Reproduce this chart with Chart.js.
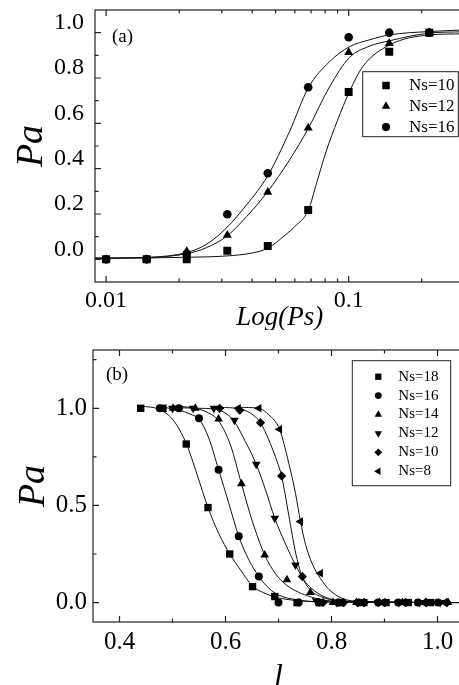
<!DOCTYPE html>
<html>
<head>
<meta charset="utf-8">
<title>Pa vs Ps and l</title>
<script src="https://cdn.jsdelivr.net/npm/chart.js@4.4.1/dist/chart.umd.min.js"></script>
<style>
  html, body { margin: 0; padding: 0; background: #fff; overflow: hidden; }
  #wrap { position: relative; width: 459px; height: 685px; overflow: hidden; }
  canvas { position: absolute; left: 0; }
  #chartA { top: 0; }
  #chartB { top: 330px; }
</style>
</head>
<body>
<div id="wrap">
  <canvas id="chartA" width="470" height="330"></canvas>
  <canvas id="chartB" width="470" height="355"></canvas>
</div>
<script>
const SERIF = '"Liberation Serif", "Times New Roman", serif';

// ---- panel (a): Pa against Ps (log axis) ----
const aPs = [0.01, 0.0147, 0.0215, 0.0316, 0.0464, 0.0681, 0.1, 0.147, 0.215];
const aPaNs10 = [0, 0, 0, 0.038, 0.059, 0.218, 0.738, 0.916, 1.0];
const aPaNs12 = [0, 0, 0.035, 0.107, 0.296, 0.58, 0.913, 0.953, 1.0];
const aPaNs16 = [0, 0, 0.025, 0.199, 0.38, 0.759, 0.98, 1.0, 1.0];

// fitted curves
const aFit10X = [0.009, 0.015, 0.0215, 0.0315, 0.04, 0.0463, 0.0552, 0.06, 0.0682, 0.074, 0.0807, 0.09, 0.1007, 0.1143, 0.147, 0.215, 0.3];
const aFit10Y = [0.005, 0.006, 0.009, 0.015, 0.028, 0.049, 0.11, 0.145, 0.217, 0.342, 0.475, 0.614, 0.739, 0.85, 0.945, 0.99, 0.995];
const aFit12X = [0.009, 0.015, 0.0215, 0.026, 0.0315, 0.0379, 0.0463, 0.057, 0.0682, 0.0834, 0.1007, 0.1216, 0.147, 0.215, 0.3];
const aFit12Y = [0.005, 0.008, 0.025, 0.052, 0.103, 0.188, 0.298, 0.438, 0.578, 0.761, 0.89, 0.94, 0.964, 0.998, 1.004];
const aFit16X = [0.009, 0.015, 0.0215, 0.026, 0.0315, 0.0379, 0.0463, 0.057, 0.0682, 0.0834, 0.1007, 0.1216, 0.147, 0.215, 0.3];
const aFit16Y = [0.005, 0.009, 0.03, 0.067, 0.141, 0.24, 0.367, 0.563, 0.757, 0.872, 0.938, 0.968, 0.99, 1.005, 1.012];

const aXMajor = [0.01, 0.1];
const aXMinor = [0.02, 0.03, 0.04, 0.05, 0.06, 0.07, 0.08, 0.09, 0.2, 0.3];
const aXLabels = ["0.01", "0.1"];
const aYMajor = [0, 0.2, 0.4, 0.6, 0.8, 1.0];
const aYMinor = [0.1, 0.3, 0.5, 0.7, 0.9];
const aYLabels = ["0.0", "0.2", "0.4", "0.6", "0.8", "1.0"];

// ---- panel (b): Pa against l ----
const bL18 = [0.44, 0.482, 0.526, 0.567, 0.608, 0.651, 0.693, 0.735, 0.777, 0.819, 0.861, 0.903, 0.945, 0.987];
const bPa18 = [1.0, 1.0, 0.816, 0.489, 0.25, 0.082, 0.031, 0, 0, 0, 0, 0, 0, 0];
const bL16 = [0.476, 0.512, 0.55, 0.587, 0.625, 0.663, 0.7, 0.738, 0.776, 0.813, 0.851, 0.888, 0.926, 0.963, 1.001];
const bPa16 = [1.0, 1.0, 0.949, 0.684, 0.341, 0.134, 0, 0, 0, 0, 0, 0, 0, 0, 0];
const bL14 = [0.501, 0.543, 0.587, 0.63, 0.674, 0.716, 0.76, 0.803, 0.847, 0.89, 0.934, 0.977, 1.02];
const bPa14 = [1.0, 1.0, 0.945, 0.612, 0.245, 0.117, 0.052, 0, 0, 0, 0, 0, 0];
const bL12 = [0.5, 0.539, 0.578, 0.617, 0.658, 0.693, 0.732, 0.771, 0.81, 0.849, 0.888, 0.927, 0.966, 1.005];
const bPa12 = [1.0, 1.0, 1.0, 0.938, 0.712, 0.434, 0.194, 0.01, 0, 0, 0, 0, 0, 0];
const bL10 = [0.589, 0.627, 0.666, 0.706, 0.745, 0.784, 0.823, 0.862, 0.901, 0.94, 0.979, 1.018];
const bPa10 = [1.0, 0.99, 0.926, 0.652, 0.134, 0, 0, 0, 0, 0, 0, 0];
const bL8 = [0.624, 0.663, 0.702, 0.7415, 0.779, 0.818, 0.857, 0.896, 0.935, 0.974, 1.013];
const bPa8 = [1.0, 1.0, 0.892, 0.417, 0.151, 0, 0, 0, 0, 0, 0];

const bFit18X = [0.44, 0.477, 0.5025, 0.5264, 0.5466, 0.567, 0.5874, 0.608, 0.6283, 0.651, 0.6723, 0.693, 0.735, 0.8, 1.05];
const bFit18Y = [1.012, 0.992, 0.935, 0.816, 0.657, 0.489, 0.355, 0.25, 0.168, 0.085, 0.05, 0.029, 0.01, 0.003, 0];
const bFit16X = [0.471, 0.512, 0.537, 0.55, 0.5685, 0.587, 0.6062, 0.625, 0.644, 0.663, 0.6817, 0.7, 0.735, 0.773, 1.05];
const bFit16Y = [1.009, 0.991, 0.966, 0.945, 0.846, 0.684, 0.511, 0.341, 0.22, 0.134, 0.074, 0.039, 0.014, 0.005, 0];
const bFit14X = [0.501, 0.543, 0.5655, 0.587, 0.6094, 0.63, 0.6516, 0.674, 0.694, 0.716, 0.76, 0.798, 1.05];
const bFit14Y = [1.012, 1.0, 0.979, 0.935, 0.811, 0.612, 0.41, 0.245, 0.15, 0.088, 0.03, 0.009, 0];
const bFit12X = [0.5, 0.5466, 0.578, 0.6032, 0.617, 0.6377, 0.658, 0.6755, 0.693, 0.713, 0.732, 0.751, 0.7825, 0.81, 0.85, 1.05];
const bFit12Y = [1.005, 1.0, 0.997, 0.969, 0.93, 0.828, 0.712, 0.58, 0.434, 0.303, 0.194, 0.105, 0.035, 0.012, 0.003, 0];
const bFit10X = [0.589, 0.627, 0.647, 0.666, 0.6817, 0.694, 0.7057, 0.7194, 0.732, 0.7447, 0.76, 0.7825, 0.81, 0.86, 1.05];
const bFit10Y = [1.005, 0.997, 0.975, 0.926, 0.837, 0.751, 0.652, 0.45, 0.26, 0.134, 0.065, 0.028, 0.01, 0.002, 0];
const bFit8X = [0.624, 0.663, 0.6817, 0.702, 0.7194, 0.732, 0.7415, 0.751, 0.7636, 0.779, 0.795, 0.82, 0.85, 1.05];
const bFit8Y = [1.005, 1.0, 0.966, 0.892, 0.717, 0.563, 0.417, 0.3, 0.2, 0.125, 0.068, 0.022, 0.006, 0];

const bXMajor = [0.4, 0.6, 0.8, 1.0];
const bXMinor = [0.5, 0.7, 0.9];
const bXLabels = ["0.4", "0.6", "0.8", "1.0"];
const bYMajor = [0, 0.5, 1.0];
const bYMinor = [0.25, 0.75, 1.25];
const bYLabels = ["0.0", "0.5", "1.0"];

// Helpers
function pts(xs, ys) {
  return xs.map((x, i) => ({ x: x, y: ys[i] }));
}

function tickList(major, minor) {
  return major
    .concat(minor)
    .sort((p, q) => p - q)
    .map((v) => ({ value: v }));
}

function tickLabel(value, major, labels) {
  const i = major.findIndex((m) => Math.abs(m - value) < 1e-9);
  return i < 0 ? "" : labels[i];
}

function markers(label, xs, ys, style, radius, rotation) {
  return {
    type: "scatter",
    label: label,
    data: pts(xs, ys),
    pointStyle: style,
    pointRadius: radius,
    pointRotation: rotation || 0,
    backgroundColor: "#000",
    borderColor: "#000",
    borderWidth: 0,
    inBox: true,
    order: 0,
  };
}

function curve(xs, ys) {
  return {
    type: "line",
    data: pts(xs, ys),
    borderColor: "#111",
    borderWidth: 1,
    pointRadius: 0,
    fill: false,
    cubicInterpolationMode: "monotone",
    order: 1,
  };
}

function drawMarker(ctx, style, rot, x, y, r) {
  ctx.beginPath();
  if (style === "circle") {
    ctx.arc(x, y, r, 0, Math.PI * 2);
  } else if (style === "rect") {
    const s = r * Math.SQRT1_2;
    ctx.rect(x - s, y - s, 2 * s, 2 * s);
  } else if (style === "rectRot") {
    ctx.moveTo(x - r, y);
    ctx.lineTo(x, y - r);
    ctx.lineTo(x + r, y);
    ctx.lineTo(x, y + r);
  } else {
    let a = (rot * Math.PI) / 180;
    for (let k = 0; k < 3; k++) {
      ctx.lineTo(x + Math.sin(a) * r, y - Math.cos(a) * r);
      a += (2 * Math.PI) / 3;
    }
  }
  ctx.closePath();
  ctx.fill();
}

// frame with inward ticks on left, bottom and top
const frameTicks = {
  id: "frameTicks",
  afterDraw(chart) {
    const { ctx, chartArea } = chart;
    const { left, right, top, bottom } = chartArea;
    const x = chart.scales.x;
    const y = chart.scales.y;
    ctx.save();
    ctx.strokeStyle = "#222";
    ctx.lineWidth = 1.2;
    ctx.strokeRect(left, top, right - left, bottom - top);
    ctx.beginPath();
    x.ticks.forEach((t) => {
      const px = x.getPixelForValue(t.value);
      const len = t.label ? 6 : 3.5;
      ctx.moveTo(px, bottom);
      ctx.lineTo(px, bottom - len);
      ctx.moveTo(px, top);
      ctx.lineTo(px, top + len);
    });
    y.ticks.forEach((t) => {
      const py = y.getPixelForValue(t.value);
      const len = t.label ? 6 : 3.5;
      ctx.moveTo(left, py);
      ctx.lineTo(left + len, py);
    });
    ctx.stroke();
    ctx.restore();
  },
};

const boxLegend = {
  id: "boxLegend",
  afterDraw(chart, args, opts) {
    const ctx = chart.ctx;
    ctx.save();
    ctx.strokeStyle = "#222";
    ctx.lineWidth = 1;
    ctx.strokeRect(opts.x, opts.y, opts.w, opts.h);
    ctx.font = opts.size + "px " + SERIF;
    ctx.textBaseline = "middle";
    ctx.fillStyle = "#000";
    let row = 0;
    chart.data.datasets.forEach((ds) => {
      if (!ds.inBox) return;
      const cy = opts.firstRow + row * opts.rowGap;
      drawMarker(ctx, ds.pointStyle, ds.pointRotation, opts.markerX, cy, ds.pointRadius * opts.scale);
      ctx.fillText(ds.label, opts.textX, cy);
      row++;
    });
    ctx.restore();
  },
};

const panelTag = {
  id: "panelTag",
  afterDraw(chart, args, opts) {
    const ctx = chart.ctx;
    ctx.save();
    ctx.font = opts.size + "px " + SERIF;
    ctx.textBaseline = "middle";
    ctx.fillStyle = "#000";
    ctx.fillText(opts.text, opts.x, opts.y);
    ctx.restore();
  },
};

function noPad(scale) {
  scale.paddingTop = 0;
  scale.paddingBottom = 0;
  scale.paddingLeft = 0;
  scale.paddingRight = 0;
}

Chart.defaults.font.family = SERIF;
Chart.defaults.color = "#000";

// ---- chart (a) ----
new Chart(document.getElementById("chartA"), {
  type: "scatter",
  data: {
    datasets: [
      markers("Ns=10", aPs, aPaNs10, "rect", 5.6),
      markers("Ns=12", aPs, aPaNs12, "triangle", 5.2),
      markers("Ns=16", aPs, aPaNs16, "circle", 4.3),
      curve(aFit10X, aFit10Y),
      curve(aFit12X, aFit12Y),
      curve(aFit16X, aFit16Y),
    ],
  },
  options: {
    responsive: false,
    devicePixelRatio: 1,
    animation: false,
    events: [],
    layout: { padding: { top: 10, right: 4.5, left: 0, bottom: 0 } },
    scales: {
      x: {
        type: "logarithmic",
        min: 0.009,
        max: 0.3,
        afterBuildTicks: (s) => { s.ticks = tickList(aXMajor, aXMinor); },
        afterFit: (s) => { s.height = 48; noPad(s); },
        grid: { display: false, drawTicks: false },
        border: { display: false },
        ticks: {
          autoSkip: false,
          maxRotation: 0,
          padding: 4,
          font: { size: 24 },
          callback: (v) => tickLabel(v, aXMajor, aXLabels),
        },
        title: {
          display: true,
          text: "Log(Ps)",
          font: { size: 27, style: "italic" },
          padding: { top: 0, bottom: -4 },
        },
      },
      y: {
        min: -0.1,
        max: 1.1,
        afterBuildTicks: (s) => { s.ticks = tickList(aYMajor, aYMinor); },
        afterFit: (s) => { s.width = 95; noPad(s); },
        grid: { display: false, drawTicks: false },
        border: { display: false },
        ticks: {
          autoSkip: false,
          padding: 11,
          labelOffset: -10,
          font: { size: 24 },
          callback: (v) => tickLabel(v, aYMajor, aYLabels),
        },
        title: {
          display: true,
          text: "Pa",
          font: { size: 38, style: "italic" },
          padding: { top: 9, bottom: 0 },
        },
      },
    },
    plugins: {
      legend: { display: false },
      tooltip: { enabled: false },
      boxLegend: { x: 362.7, y: 71.7, w: 95.6, h: 65, firstRow: 85.5, rowGap: 20.8, markerX: 386, textX: 409, size: 17, scale: 0.95 },
      panelTag: { text: "(a)", x: 112, y: 37.5, size: 19 },
    },
  },
  plugins: [frameTicks, boxLegend, panelTag],
});

// ---- chart (b) ----
new Chart(document.getElementById("chartB"), {
  type: "scatter",
  data: {
    datasets: [
      markers("Ns=18", bL18, bPa18, "rect", 5.2),
      markers("Ns=16", bL16, bPa16, "circle", 4),
      markers("Ns=14", bL14, bPa14, "triangle", 5),
      markers("Ns=12", bL12, bPa12, "triangle", 5, 180),
      markers("Ns=10", bL10, bPa10, "rectRot", 4.6),
      markers("Ns=8", bL8, bPa8, "triangle", 5, -90),
      curve(bFit18X, bFit18Y),
      curve(bFit16X, bFit16Y),
      curve(bFit14X, bFit14Y),
      curve(bFit12X, bFit12Y),
      curve(bFit10X, bFit10Y),
      curve(bFit8X, bFit8Y),
    ],
  },
  options: {
    responsive: false,
    devicePixelRatio: 1,
    animation: false,
    events: [],
    layout: { padding: { top: 20, right: 6, left: 0, bottom: 0 } },
    scales: {
      x: {
        min: 0.35,
        max: 1.05,
        afterBuildTicks: (s) => { s.ticks = tickList(bXMajor, bXMinor); },
        afterFit: (s) => { s.height = 63; noPad(s); },
        grid: { display: false, drawTicks: false },
        border: { display: false },
        ticks: {
          autoSkip: false,
          maxRotation: 0,
          padding: 5,
          font: { size: 25 },
          callback: (v) => tickLabel(v, bXMajor, bXLabels),
        },
        title: {
          display: true,
          text: "l",
          font: { size: 32, style: "italic" },
          padding: { top: 0, bottom: -12 },
        },
      },
      y: {
        min: -0.1,
        max: 1.3,
        afterBuildTicks: (s) => { s.ticks = tickList(bYMajor, bYMinor); },
        afterFit: (s) => { s.width = 93; noPad(s); },
        grid: { display: false, drawTicks: false },
        border: { display: false },
        ticks: {
          autoSkip: false,
          padding: 6,
          font: { size: 25 },
          callback: (v) => tickLabel(v, bYMajor, bYLabels),
        },
        title: {
          display: true,
          text: "Pa",
          font: { size: 38, style: "italic" },
          padding: { top: 11, bottom: 0 },
        },
      },
    },
    plugins: {
      legend: { display: false },
      tooltip: { enabled: false },
      boxLegend: { x: 352.3, y: 30.7, w: 98.4, h: 125, firstRow: 46.7, rowGap: 18.9, markerX: 378.3, textX: 398.3, size: 15, scale: 0.85 },
      panelTag: { text: "(b)", x: 106, y: 45.5, size: 19 },
    },
  },
  plugins: [frameTicks, boxLegend, panelTag],
});
</script>
</body>
</html>
